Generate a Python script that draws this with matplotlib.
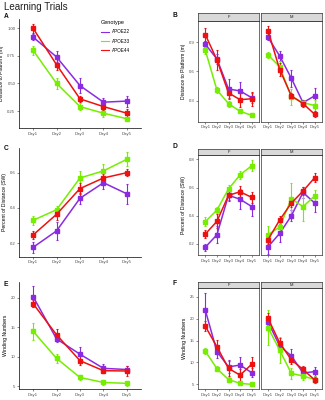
import matplotlib
matplotlib.use("Agg")
import matplotlib.pyplot as plt
from matplotlib.lines import Line2D

plt.rcParams['font.family'] = ['Liberation Sans', 'DejaVu Sans']

days = ['Day1', 'Day2', 'Day3', 'Day4', 'Day5']
genotypes = ['APOE22', 'APOE33', 'APOE44']
colors = ['#8A2BE2', '#76EE00', '#EE1111']
sexes = ['F', 'M']

# Panel A: distance to platform
a22 = [0.92, 0.74, 0.48, 0.33, 0.34]; a22_se = [0.03, 0.05, 0.07, 0.035, 0.05]
a33 = [0.80, 0.50, 0.29, 0.23, 0.18]; a33_se = [0.04, 0.05, 0.03, 0.03, 0.02]
a44 = [1.00, 0.67, 0.36, 0.29, 0.23]; a44_se = [0.04, 0.05, 0.03, 0.03, 0.04]
# Panel B: by sex
b22f = [0.88, 0.73, 0.42, 0.40, 0.33]; b22f_se = [0.03, 0.05, 0.10, 0.09, 0.05]
b33f = [0.82, 0.41, 0.27, 0.19, 0.15]; b33f_se = [0.04, 0.03, 0.03, 0.015, 0.02]
b44f = [0.98, 0.72, 0.38, 0.31, 0.32]; b44f_se = [0.07, 0.10, 0.05, 0.08, 0.07]
b22m = [0.95, 0.76, 0.53, 0.28, 0.35]; b22m_se = [0.03, 0.05, 0.09, 0.02, 0.08]
b33m = [0.77, 0.65, 0.34, 0.28, 0.25]; b33m_se = [0.03, 0.06, 0.08, 0.03, 0.06]
b44m = [1.02, 0.62, 0.35, 0.27, 0.16]; b44m_se = [0.05, 0.07, 0.03, 0.04, 0.03]
# Panel C: percent distance SW
c22 = [0.177, 0.27, 0.455, 0.543, 0.48]; c22_se = [0.03, 0.05, 0.03, 0.035, 0.055]
c33 = [0.33, 0.39, 0.57, 0.61, 0.676]; c33_se = [0.025, 0.02, 0.04, 0.04, 0.04]
c44 = [0.247, 0.364, 0.51, 0.57, 0.60]; c44_se = [0.02, 0.03, 0.03, 0.02, 0.02]
# Panel D: by sex
d22f = [0.177, 0.265, 0.545, 0.517, 0.465]; d22f_se = [0.025, 0.06, 0.03, 0.07, 0.07]
d33f = [0.358, 0.44, 0.59, 0.69, 0.755]; d33f_se = [0.03, 0.02, 0.03, 0.03, 0.04]
d44f = [0.27, 0.36, 0.545, 0.57, 0.53]; d44f_se = [0.03, 0.05, 0.04, 0.04, 0.04]
d22m = [0.18, 0.275, 0.40, 0.565, 0.49]; d22m_se = [0.05, 0.06, 0.04, 0.04, 0.06]
d33m = [0.265, 0.32, 0.52, 0.465, 0.54]; d33m_se = [0.06, 0.04, 0.11, 0.10, 0.04]
d44m = [0.23, 0.37, 0.49, 0.575, 0.67]; d44m_se = [0.03, 0.03, 0.03, 0.03, 0.03]
# Panel E: winding numbers
e22 = [20.2, 13.0, 10.4, 8.0, 7.8]; e22_se = [1.8, 0.6, 1.2, 0.7, 0.6]
e33 = [14.3, 9.7, 6.45, 5.6, 5.45]; e33_se = [1.4, 0.8, 0.4, 0.35, 0.4]
e44 = [19.0, 13.7, 9.3, 7.6, 7.55]; e44_se = [0.6, 0.9, 0.8, 0.4, 0.8]
# Panel F: by sex
f22f = [22.0, 12.5, 9.0, 9.4, 7.65]; f22f_se = [3.8, 1.5, 1.5, 1.8, 1.0]
f33f = [12.6, 8.6, 6.1, 5.2, 5.0]; f33f_se = [0.7, 0.5, 0.5, 0.3, 0.4]
f44f = [18.3, 13.6, 8.65, 7.1, 9.6]; f44f_se = [1.2, 1.6, 1.7, 1.4, 1.7]
f22m = [19.3, 13.8, 11.5, 7.6, 7.9]; f22m_se = [0.7, 0.6, 1.5, 1.0, 1.0]
f33m = [18.0, 12.8, 7.5, 6.9, 6.1]; f33m_se = [4.0, 3.0, 1.3, 0.9, 0.7]
f44m = [20.1, 14.5, 10.6, 8.4, 6.0]; f44m_se = [1.3, 1.2, 1.0, 0.8, 0.6]

W, H = 325, 400
fig = plt.figure(figsize=(W / 100, H / 100), dpi=100)


def box(l, t, r, b):
    return [l / W, 1 - b / H, (r - l) / W, (b - t) / H]


TICK = 3.1
LAB = 3.7
TCOL = '#4D4D4D'
x = list(range(1, 6))


def draw(ax, series):
    for (m, s), c in zip(series, colors):
        ax.errorbar(x, m, yerr=s, color=c, lw=1.1, marker='s', ms=2.2,
                    capsize=0.8, elinewidth=0.8, capthick=0.8)
    ax.set_xlim(0.4, 5.6)
    ax.set_xticks(x)
    ax.set_xticklabels(days)
    ax.tick_params(labelsize=TICK, length=1.5, width=0.4, pad=1.2,
                   colors='#333333', labelcolor=TCOL)


def classic(ax, ylim, yticks, ylabel):
    ax.set_ylim(*ylim)
    ax.set_yticks(yticks)
    for s in ['top', 'right']:
        ax.spines[s].set_visible(False)
    for s in ['left', 'bottom']:
        ax.spines[s].set_linewidth(0.5)
        ax.spines[s].set_color('black')
    ax.set_ylabel(ylabel, fontsize=LAB, labelpad=2, color='black')


def facet(stript, t, b, ylim, yticks, yfmt, ylabel, sf, sm):
    lefts = [(198.3, 258.7), (261.0, 321.7)]
    for i, ((xl, xr), series, sx) in enumerate(zip(lefts, [sf, sm], sexes)):
        ax = fig.add_axes(box(xl, t, xr, b))
        draw(ax, series)
        ax.set_ylim(*ylim)
        ax.set_yticks(yticks)
        ax.set_yticklabels([yfmt.format(v) for v in yticks])
        for s in ax.spines.values():
            s.set_linewidth(0.5)
            s.set_color('#333333')
        if i == 1:
            ax.tick_params(axis='y', left=False, labelleft=False)
        else:
            ax.set_ylabel(ylabel, fontsize=LAB, labelpad=2)
        st = fig.add_axes(box(xl, stript, xr, t))
        st.set_facecolor('#D9D9D9')
        st.set_xticks([]); st.set_yticks([])
        for s in st.spines.values():
            s.set_linewidth(0.5)
            s.set_color('#333333')
        st.text(0.5, 0.5, sx, ha='center', va='center', fontsize=2.9,
                color='#1A1A1A', transform=st.transAxes)


# Left panels
axA = fig.add_axes(box(19, 19, 141, 128))
draw(axA, [(a22, a22_se), (a33, a33_se), (a44, a44_se)])
classic(axA, (0.096, 1.084), [0.25, 0.50, 0.75, 1.00], 'Distance to Platform (m)')
axA.set_yticklabels(['0.25', '0.50', '0.75', '1.00'])

axC = fig.add_axes(box(19, 148.3, 141, 256.7))
draw(axC, [(c22, c22_se), (c33, c33_se), (c44, c44_se)])
classic(axC, (0.124, 0.738), [0.2, 0.4, 0.6], 'Percent of Distance (SW)')
axC.set_yticklabels(['0.2', '0.4', '0.6'])

axE = fig.add_axes(box(19, 281.7, 141, 389.3))
draw(axE, [(e22, e22_se), (e33, e33_se), (e44, e44_se)])
classic(axE, (4.44, 22.72), [5, 10, 15, 20], 'Winding Numbers')

# Right panels
facet(13.0, 20.7, 121.7, (0.084, 1.122), [0.3, 0.6, 0.9], '{:.1f}',
      'Distance to Platform (m)',
      [(b22f, b22f_se), (b33f, b33f_se), (b44f, b44f_se)],
      [(b22m, b22m_se), (b33m, b33m_se), (b44m, b44m_se)])
facet(149.0, 155.5, 255.0, (0.122, 0.827), [0.2, 0.4, 0.6, 0.8], '{:.1f}',
      'Percent of Distance (SW)',
      [(d22f, d22f_se), (d33f, d33f_se), (d44f, d44f_se)],
      [(d22m, d22m_se), (d33m, d33m_se), (d44m, d44m_se)])
facet(281.7, 288.3, 389.3, (3.86, 26.97), [5, 10, 15, 20, 25], '{:.0f}',
      'Winding Numbers',
      [(f22f, f22f_se), (f33f, f33f_se), (f44f, f44f_se)],
      [(f22m, f22m_se), (f33m, f33m_se), (f44m, f44m_se)])

# Legend
handles = [Line2D([], [], color=c, lw=0.8) for c in colors]
leg = axA.legend(handles, genotypes, title='Genotype', loc='upper left',
                 bbox_to_anchor=(100 / W, 1 - 19 / H), bbox_transform=fig.transFigure,
                 frameon=False, fontsize=3.3, title_fontsize=4.0,
                 handlelength=1.7, handletextpad=0.8, labelspacing=0.95,
                 borderaxespad=0, borderpad=0.2)
leg._legend_box.align = 'left'

# Title and panel letters
fig.text(4 / W, 1 - 7 / H, 'Learning Trials', fontsize=7.0, color='#222222',
         ha='left', va='center')
for letter, (px, py) in zip('ABCDEF', [(4, 17), (172.5, 15.7), (4, 148.3),
                                       (172.3, 146.7), (4, 284), (172.5, 283.3)]):
    fig.text(px / W, 1 - py / H, letter, fontsize=4.8, fontweight='bold',
             ha='left', va='center', color='#111111')

fig.savefig('out.png', dpi=100)
